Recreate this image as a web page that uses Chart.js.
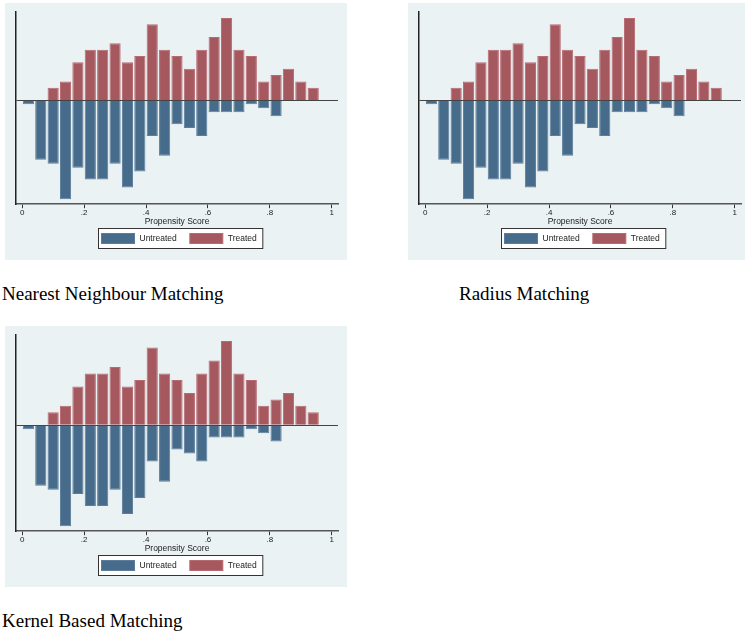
<!DOCTYPE html>
<html><head><meta charset="utf-8">
<script src="https://cdn.jsdelivr.net/npm/chart.js@4"></script>
<style>
html,body{margin:0;padding:0;background:#fff;width:745px;height:633px;overflow:hidden;position:relative}
.panel{position:absolute;background:#EAF2F3;overflow:hidden}
.panel canvas{display:block}
.cap{position:absolute;font-family:"Liberation Serif","Times New Roman",serif;font-size:19px;line-height:20px;color:#000;white-space:nowrap}
</style></head><body>
<div class="panel" style="left:5px;top:3px;width:342px;height:257px"><canvas id="c1"></canvas></div>
<div class="panel" style="left:408px;top:3px;width:342px;height:257px"><canvas id="c2"></canvas></div>
<div class="panel" style="left:5px;top:326px;width:342px;height:261px"><canvas id="c3"></canvas></div>
<div class="cap" style="left:2px;top:284px">Nearest Neighbour Matching</div>
<div class="cap" style="left:459px;top:284px">Radius Matching</div>
<div class="cap" style="left:2px;top:611px">Kernel Based Matching</div>
<script>
// Histogram bin centres (bin width 0.04)
const binCenters = [0.02,0.06,0.10,0.14,0.18,0.22,0.26,0.30,0.34,0.38,0.42,0.46,0.50,0.54,0.58,0.62,0.66,0.70,0.74,0.78,0.82,0.86,0.90,0.94];
// Density of untreated (drawn below zero) and treated (drawn above zero)
const untreated = [0.108,1.623,1.732,2.706,1.840,2.165,2.165,1.732,2.381,1.948,0.974,1.515,0.649,0.758,0.974,0.325,0.325,0.325,0.108,0.216,0.433,null,null,null];
const treated   = [null,null,0.347,0.521,1.042,1.389,1.389,1.563,1.042,1.215,2.083,1.389,1.215,0.868,1.389,1.736,2.257,1.389,1.215,0.521,0.694,0.868,0.521,0.347];
const xTicks = [0,0.2,0.4,0.6,0.8,1];
const xTickLabels = ['0','.2','.4','.6','.8','1'];
const seriesLabels = ['Untreated','Treated'];
const seriesFill = ['#476B8B','#A6585F'];
const seriesLine = ['#5C7E9C','#B86A72'];

const boxLegend = {
  id:'boxLegend',
  afterDraw(chart){
    const ctx = chart.ctx, ca = chart.chartArea, H = chart.height;
    ctx.save();
    ctx.font = '8.5px "Liberation Sans", Arial, sans-serif';
    const sw = 33, sh = 10, pad = 3, gapT = 5, gapItem = 13;
    const w0 = ctx.measureText(seriesLabels[0]).width, w1 = ctx.measureText(seriesLabels[1]).width;
    const boxW = pad + sw + gapT + w0 + gapItem + sw + gapT + w1 + 6;
    const boxH = 20;
    const bx = Math.round((ca.left + ca.right)/2 + 3 - boxW/2) + 0.5;
    const by = H - 12 - boxH + 0.5;
    ctx.fillStyle = '#fff';
    ctx.fillRect(bx, by, boxW, boxH);
    ctx.strokeStyle = '#333'; ctx.lineWidth = 1;
    ctx.strokeRect(bx, by, boxW, boxH);
    let x = bx + pad;
    const sy = by + (boxH - sh)/2;
    for (let i=0;i<2;i++){
      ctx.fillStyle = seriesFill[i];
      ctx.fillRect(x, sy, sw, sh);
      ctx.strokeStyle = seriesLine[i];
      ctx.strokeRect(x, sy, sw, sh);
      x += sw + gapT;
      ctx.fillStyle = '#222';
      ctx.textBaseline = 'middle';
      ctx.fillText(seriesLabels[i], x, by + boxH/2 + 0.5);
      x += (i===0 ? w0 : w1) + gapItem;
    }
    ctx.restore();
  }
};

function pts(arr, sign){
  const out = [];
  binCenters.forEach((x,i)=>{ if (arr[i] != null) out.push({x:x, y: sign*arr[i]}); });
  return out;
}

function makeChart(id, w, h, bottomPad){
  const cv = document.getElementById(id);
  cv.width = w; cv.height = h;
  return new Chart(cv, {
    type:'bar',
    data:{ datasets:[
      {label:seriesLabels[0], data:pts(untreated,-1), backgroundColor:seriesFill[0], borderColor:seriesLine[0], borderWidth:1, grouped:false, barPercentage:0.9, categoryPercentage:1},
      {label:seriesLabels[1], data:pts(treated,1), backgroundColor:seriesFill[1], borderColor:seriesLine[1], borderWidth:1, grouped:false, barPercentage:0.9, categoryPercentage:1}
    ]},
    options:{
      responsive:false, animation:false, devicePixelRatio:1,
      layout:{padding:{left:11,right:9,top:9,bottom:bottomPad}},
      plugins:{legend:{display:false}, tooltip:{enabled:false}},
      scales:{
        x:{type:'linear', min:-0.02, max:1.02, offset:false,
           afterBuildTicks:s=>{ s.ticks = xTicks.map(v=>({value:v})); },
           ticks:{callback:(v,i)=>xTickLabels[i], font:{family:'"Liberation Sans", Arial, sans-serif', size:8}, color:'#222', padding:0, autoSkip:false, maxRotation:0},
           grid:{offset:false, drawOnChartArea:false, drawTicks:true, tickLength:4, color:'#333'},
           border:{display:true, color:'#555', width:1.5},
           title:{display:true, text:'Propensity Score', font:{family:'"Liberation Sans", Arial, sans-serif', size:8.5}, color:'#222', padding:{top:-1,bottom:0}}
        },
        y:{min:-2.84, max:2.42,
           ticks:{display:false, stepSize:1},
           grid:{drawTicks:false, color:c=> (c.tick && c.tick.value===0) ? '#444' : 'rgba(0,0,0,0)', lineWidth:1},
           border:{display:true, color:'#222', width:1.5}
        }
      }
    },
    plugins:[boxLegend]
  });
}
makeChart('c1', 342, 257, 33);
makeChart('c2', 342, 257, 33);
makeChart('c3', 342, 261, 33);
</script>
</body></html>
